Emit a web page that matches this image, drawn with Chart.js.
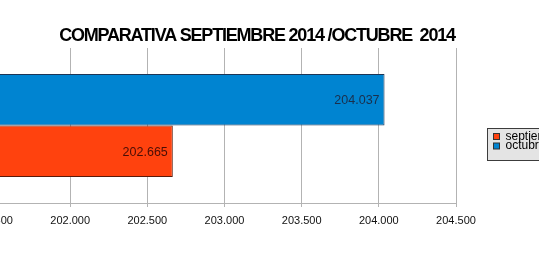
<!DOCTYPE html>
<html>
<head>
<meta charset="utf-8">
<script src="https://cdn.jsdelivr.net/npm/chart.js@4.4.0/dist/chart.umd.min.js"></script>
<style>
    html, body { margin: 0; padding: 0; background: #fff; }
    body { width: 539px; height: 268px; overflow: hidden; position: relative; }
    #wrap { position: absolute; left: -40px; top: 0; width: 579px; height: 268px; }
</style>
</head>
<body>
<div id="wrap"><canvas id="chart"></canvas></div>
<script>
// Chart data
const chartTitle = 'COMPARATIVA SEPTIEMBRE 2014 /OCTUBRE  2014';
const categories = [''];
const seriesNames = ['septiembre', 'octubre'];
const seriesValues = [202665, 204037];
const seriesColors = ['#ff420e', '#0084d1'];
const seriesBorders = ['#5a1a0a', '#1c3556'];
const labelColors = ['#4a0e06', '#1a2f4c'];
const axisMin = 201500;
const axisMax = 204500;
const axisStep = 500;

// dots as thousands separator, like 202.000
function formatNumber(v) {
    return String(Math.round(v)).replace(/\B(?=(\d{3})+(?!\d))/g, '.');
}

// LibreOffice draws the first series at the bottom, so feed them reversed
const datasets = seriesNames.map((name, i) => ({
    label: name,
    data: [seriesValues[i]],
    backgroundColor: seriesColors[i],
    borderColor: seriesBorders[i],
    borderWidth: 1,
    borderSkipped: false,
    labelColor: labelColors[i]
})).reverse();

// Title drawn by hand so it can be squeezed a bit
const titlePlugin = {
    id: 'squeezedTitle',
    afterDraw(chart) {
        const ctx = chart.ctx;
        ctx.save();
        ctx.font = 'bold 18px "Liberation Sans", Arial, sans-serif';
        ctx.letterSpacing = '-1.2px';
        ctx.fillStyle = '#000';
        ctx.textAlign = 'center';
        ctx.textBaseline = 'middle';
        ctx.fillText(chartTitle, 40 + 257, 36);
        ctx.restore();
    }
};

// Value labels inside the bar ends
const valueLabels = {
    id: 'valueLabels',
    afterDatasetsDraw(chart) {
        const ctx = chart.ctx;
        ctx.save();
        ctx.font = '12.5px "Liberation Sans", Arial, sans-serif';
        ctx.textAlign = 'right';
        ctx.textBaseline = 'middle';
        chart.data.datasets.forEach((ds, i) => {
            chart.getDatasetMeta(i).data.forEach((bar, j) => {
                ctx.fillStyle = ds.labelColor;
                ctx.fillText(formatNumber(ds.data[j]), bar.x - 5, bar.y + 1);
            });
        });
        ctx.restore();
    }
};

// Grey legend box at the right edge
const boxLegend = {
    id: 'boxLegend',
    afterDraw(chart) {
        const ctx = chart.ctx;
        const left = chart.chartArea.right + 31;
        const top = 128;
        ctx.save();
        ctx.fillStyle = '#e4e4e4';
        ctx.strokeStyle = '#3c3c3c';
        ctx.lineWidth = 1;
        ctx.fillRect(left + 0.5, top + 0.5, 85, 32);
        ctx.strokeRect(left + 0.5, top + 0.5, 85, 32);
        ctx.font = '12px "Liberation Sans", Arial, sans-serif';
        ctx.textBaseline = 'middle';
        seriesNames.forEach((name, i) => {
            const y = top + 5 + i * 9.5;
            ctx.fillStyle = seriesColors[i];
            ctx.fillRect(left + 6.5, y + 0.5, 6, 6);
            ctx.strokeStyle = '#333';
            ctx.strokeRect(left + 6.5, y + 0.5, 6, 6);
            ctx.fillStyle = '#000';
            ctx.fillText(name, left + 18.5, y + 3.5);
        });
        ctx.restore();
    }
};

const ctx = document.getElementById('chart').getContext('2d');
new Chart(ctx, {
    type: 'bar',
    data: {
        labels: categories,
        datasets: datasets
    },
    options: {
        indexAxis: 'y',
        responsive: true,
        maintainAspectRatio: false,
        animation: false,
        layout: {
            padding: { top: 48, right: 83, bottom: 0, left: 0 }
        },
        plugins: {
            legend: { display: false },
            title: { display: false },
            tooltip: { enabled: false }
        },
        datasets: {
            bar: { categoryPercentage: 0.663, barPercentage: 1 }
        },
        scales: {
            x: {
                min: axisMin,
                max: axisMax,
                ticks: {
                    stepSize: axisStep,
                    padding: 7,
                    color: '#111',
                    font: { family: '"Liberation Sans", Arial, sans-serif', size: 11 },
                    callback: v => formatNumber(v)
                },
                grid: { color: '#b3b3b3', tickLength: 4, drawTicks: true },
                border: { color: '#b3b3b3' },
                afterFit(scale) { scale.height = 65; }
            },
            y: {
                ticks: { display: false },
                grid: { display: false },
                border: { display: false },
                afterFit(scale) { scale.width = 33; }
            }
        }
    },
    plugins: [titlePlugin, valueLabels, boxLegend]
});
</script>
</body>
</html>
